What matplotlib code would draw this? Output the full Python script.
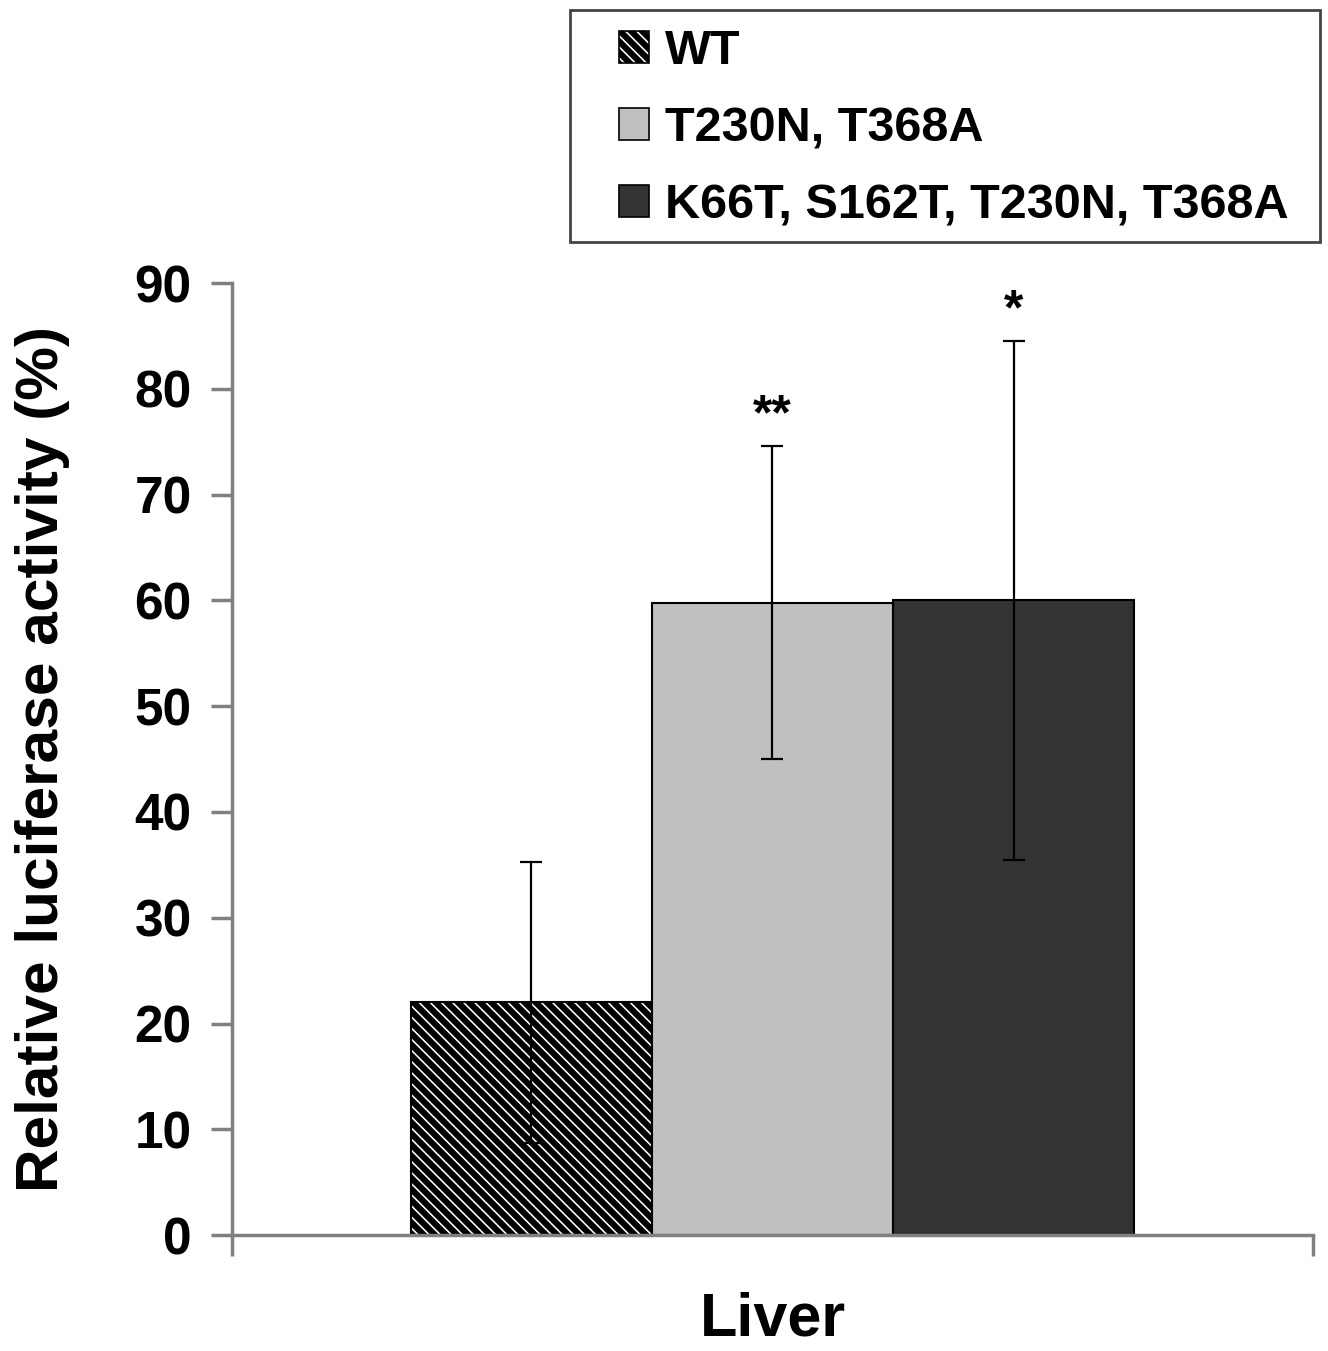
import matplotlib
matplotlib.use('Agg')
import matplotlib.pyplot as plt
from matplotlib.patches import Rectangle

# data
groups = ['WT', 'T230N, T368A', 'K66T, S162T, T230N, T368A']
means = [22.0, 59.8, 60.0]
errors = [13.3, 14.8, 24.5]
stars = ['', '**', '*']
facecolors = ['white', '#c0c0c0', '#333333']
hatches = ['\\\\\\', '', '']
tissue = 'Liver'

plt.rcParams['font.family'] = ['Liberation Sans', 'DejaVu Sans']
plt.rcParams['font.weight'] = 'bold'
plt.rcParams['hatch.linewidth'] = 4.5
plt.rcParams['hatch.color'] = 'black'

fig = plt.figure(figsize=(13.28, 13.51), dpi=100)
ax = fig.add_axes([0.1747, 0.0858, 0.8140, 0.7047])

width = 0.223
offsets = [-width, 0, width]
for i in range(len(groups)):
    ax.bar(offsets[i], means[i], width, color=facecolors[i], hatch=hatches[i],
           edgecolor='black', linewidth=1.5, label=groups[i], zorder=2)
    ax.errorbar(offsets[i], means[i], yerr=errors[i], fmt='none', ecolor='black',
                elinewidth=1.6, capsize=8, capthick=1.6, zorder=3)
    if stars[i]:
        ax.text(offsets[i], means[i] + errors[i] + 1.6, stars[i], ha='center',
                va='baseline', fontsize=36, fontweight='bold')

ax.set_xlim(-0.5, 0.5)
ax.set_ylim(0, 90)
ax.set_yticks(range(0, 91, 10))
ax.set_xticks([-0.5, 0.5])
ax.set_xticklabels(['', ''])
ax.tick_params(axis='y', labelsize=37, length=15, width=2.5, color='#808080', pad=14)
ax.tick_params(axis='x', length=15, width=2.5, color='#808080')
for s in ['top', 'right']:
    ax.spines[s].set_visible(False)
for s in ['left', 'bottom']:
    ax.spines[s].set_color('#808080')
    ax.spines[s].set_linewidth(2.5)

ax.set_ylabel('Relative luciferase activity (%)', fontsize=43.5, fontweight='bold')
ax.yaxis.set_label_coords(-0.150, 0.5)
ax.set_xlabel(tissue, fontsize=44, fontweight='bold', labelpad=22)

# legend text placed by the legend, frame drawn as a separate box
leg = fig.legend(loc='upper left', bbox_to_anchor=(0.466, 0.9784), fontsize=35,
                 frameon=False, handlelength=0.62, handleheight=0.62,
                 handletextpad=0.33, labelspacing=0.66, borderpad=0,
                 borderaxespad=0)
for h in leg.legend_handles:
    h.set_linewidth(1.2)
fig.add_artist(Rectangle((570 / 1328, 1 - 242 / 1351), 750 / 1328, 232 / 1351,
                         transform=fig.transFigure, fill=False,
                         edgecolor='#444444', linewidth=2))

fig.savefig('out.png', dpi=100)
